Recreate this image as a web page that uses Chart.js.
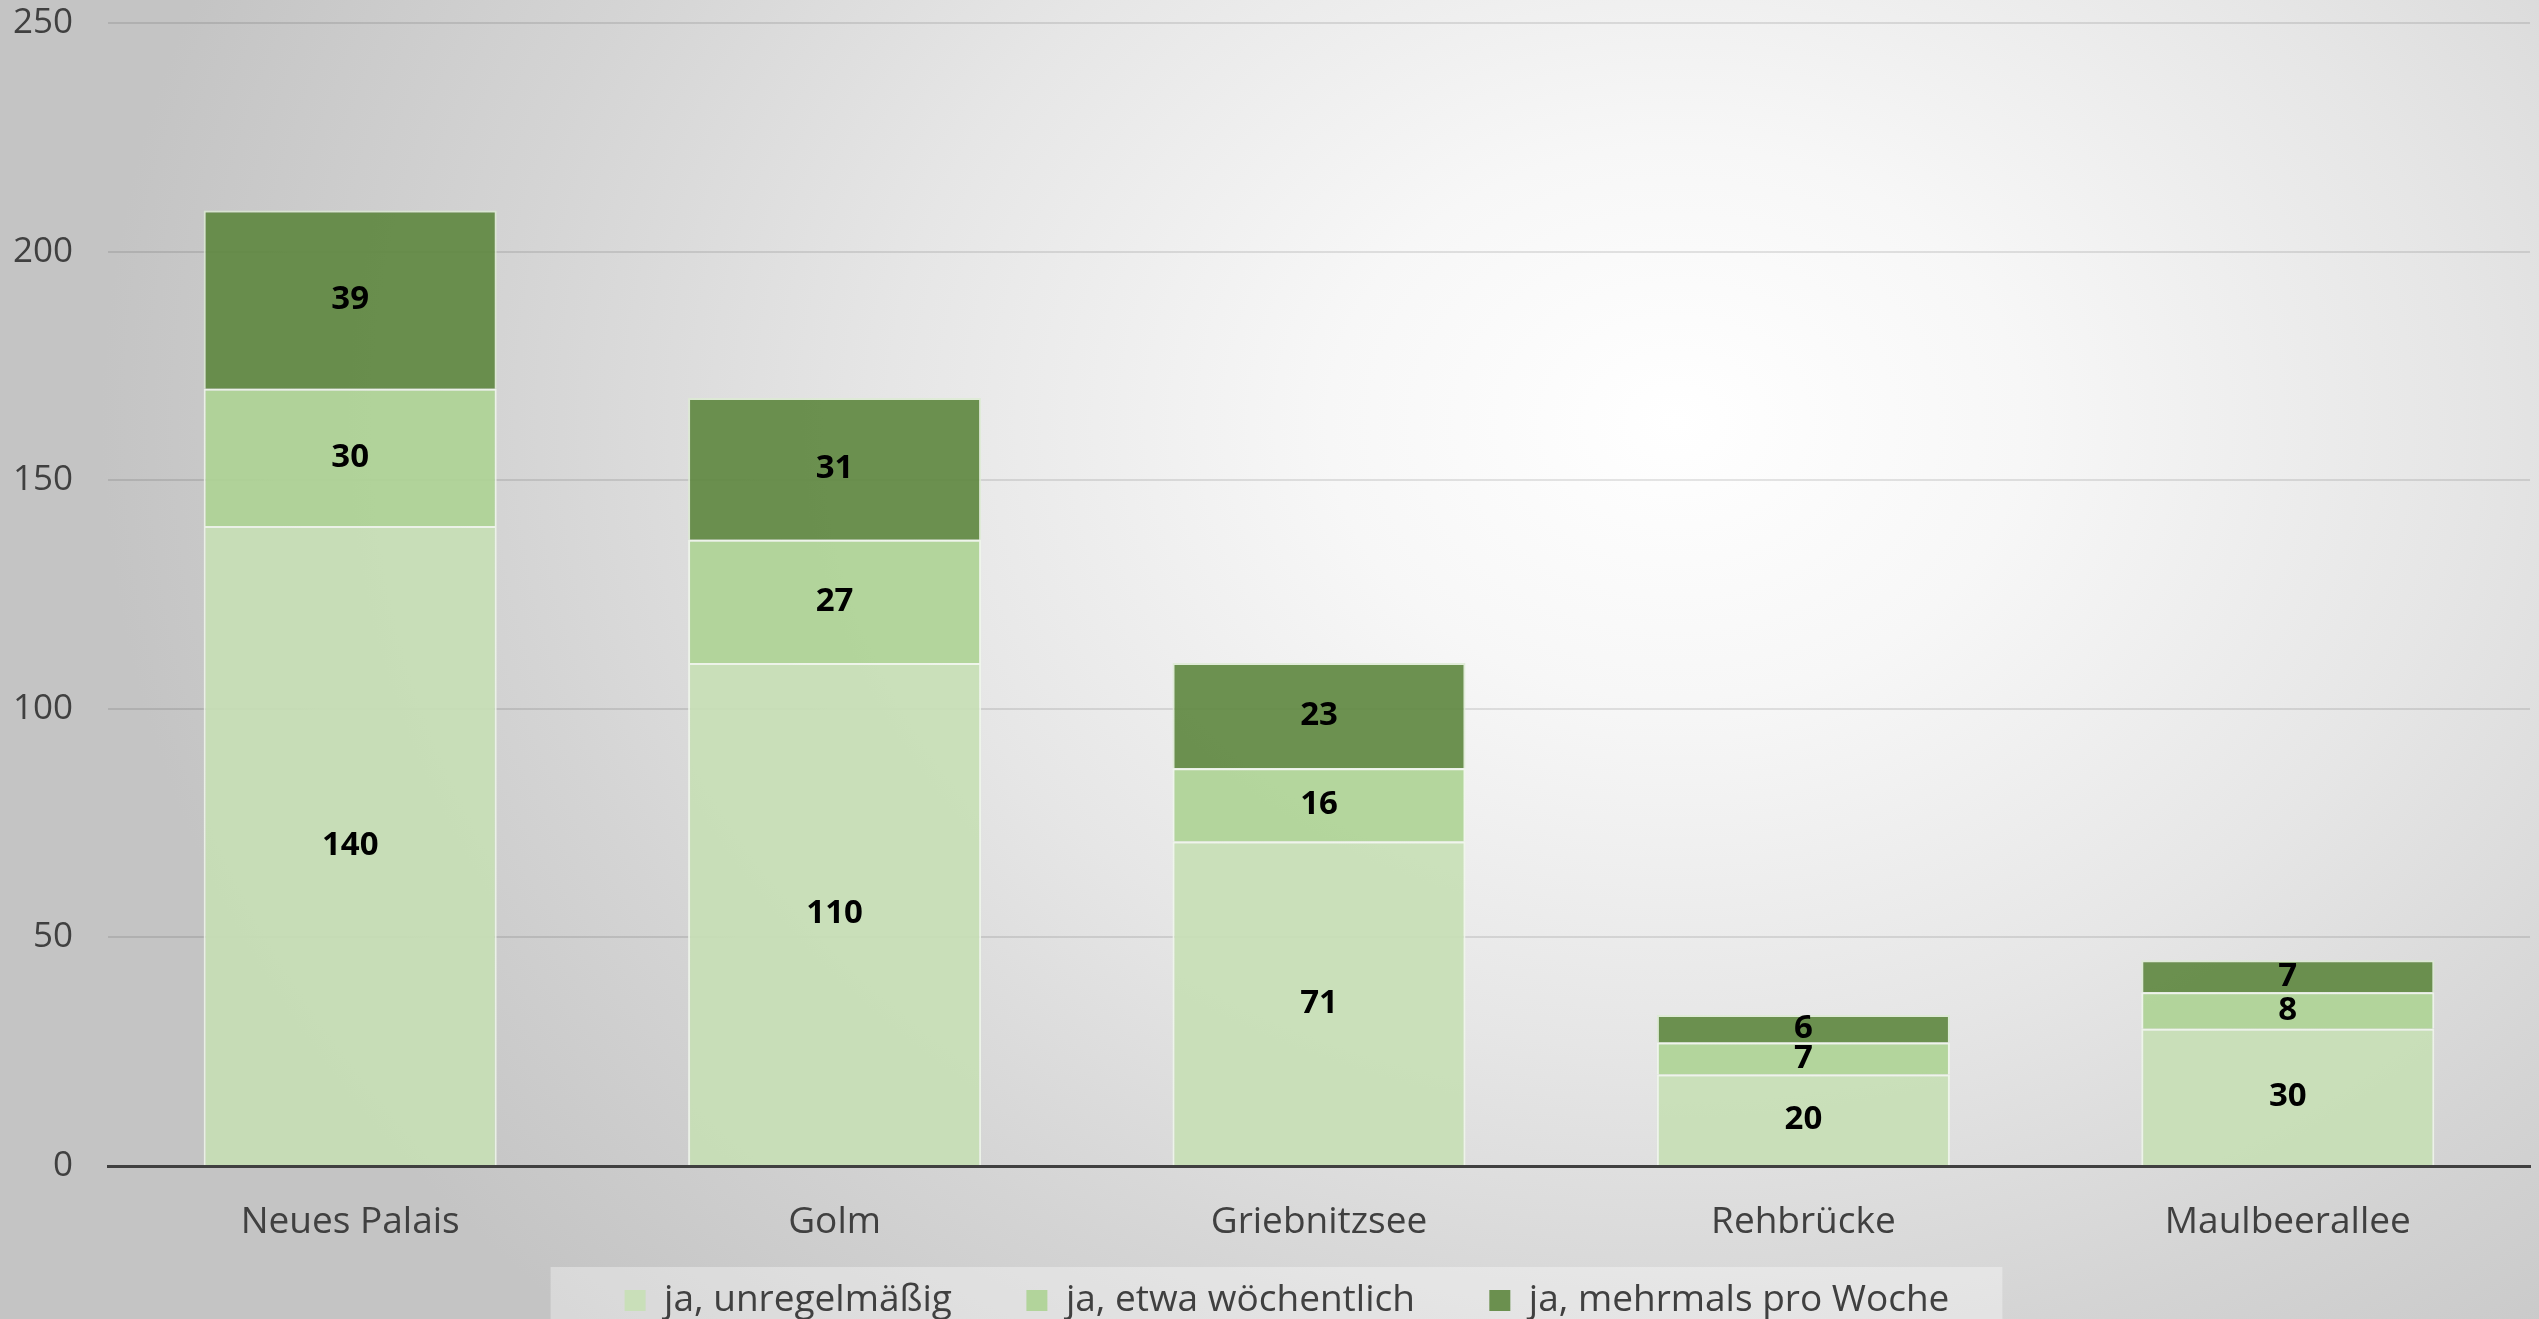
<!DOCTYPE html>
<html>
<head>
<meta charset="utf-8">
<script src="https://cdn.jsdelivr.net/npm/chart.js@4"></script>
<style>
  html, body { margin: 0; padding: 0; overflow: hidden; }
  #wrap {
    width: 2539px; height: 1319px;
    background: radial-gradient(ellipse 62% 95% at 66% 32%, #ffffff 0%, #f7f7f7 22%, #e6e6e6 50%, #d4d4d4 75%, #c4c4c4 100%);
  }
</style>
</head>
<body>
<div id="wrap"><canvas id="chart" width="2539" height="1319"></canvas></div>
<script>
// Categories and series
const locations = ['Neues Palais', 'Golm', 'Griebnitzsee', 'Rehbrücke', 'Maulbeerallee'];
const unregelmaessig = [140, 110, 71, 20, 30];
const woechentlich = [30, 27, 16, 7, 8];
const mehrmals = [39, 31, 23, 6, 7];
const seriesNames = ['ja, unregelmäßig', 'ja, etwa wöchentlich', 'ja, mehrmals pro Woche'];
const yTicks = [0, 50, 100, 150, 200, 250];

const FONT = "'Open Sans', 'DejaVu Sans', sans-serif";

// Draw the value in the middle of each bar segment
const segmentLabels = {
    id: 'segmentLabels',
    afterDatasetsDraw(chart) {
        const ctx = chart.ctx;
        ctx.save();
        ctx.font = 'bold 33px ' + FONT;
        ctx.fillStyle = '#000000';
        ctx.textAlign = 'center';
        ctx.textBaseline = 'middle';
        chart.data.datasets.forEach((ds, i) => {
            const meta = chart.getDatasetMeta(i);
            meta.data.forEach((bar, j) => {
                const y = (bar.y + bar.base) / 2;
                ctx.fillText(String(ds.data[j]), bar.x, y);
            });
        });
        ctx.restore();
    }
};

// Legend sits a little right of centre, on a light box
const legendBox = {
    id: 'legendBox',
    afterLayout(chart) {
        const lg = chart.legend;
        if (!lg) return;
        lg.left += 22;
        lg.right += 22;
    },
    beforeDraw(chart) {
        const lg = chart.legend;
        if (!lg || !lg.lineWidths) return;
        const p = lg.options.labels.padding;
        const w = lg.lineWidths[0];
        const startX = (lg.left + p + lg.right - w) / 2;
        const ctx = chart.ctx;
        ctx.save();
        ctx.fillStyle = 'rgba(255,255,255,0.35)';
        ctx.fillRect(startX - 74, lg.top + 21, w - p + 74 + 53, chart.height);
        ctx.restore();
    }
};

new Chart(document.getElementById('chart'), {
    type: 'bar',
    data: {
        labels: locations,
        datasets: [
            {
                label: seriesNames[0],
                data: unregelmaessig,
                backgroundColor: 'rgba(198, 223, 181, 0.9)',
                borderColor: 'rgba(240, 247, 235, 0.85)',
                borderWidth: 2
            },
            {
                label: seriesNames[1],
                data: woechentlich,
                backgroundColor: 'rgba(173, 211, 148, 0.9)',
                borderColor: 'rgba(240, 247, 235, 0.85)',
                borderWidth: 2
            },
            {
                label: seriesNames[2],
                data: mehrmals,
                backgroundColor: 'rgba(93, 134, 62, 0.9)',
                borderColor: 'rgba(220, 235, 210, 0.8)',
                borderWidth: 2
            }
        ]
    },
    options: {
        responsive: false,
        animation: false,
        devicePixelRatio: 1,
        layout: { padding: { top: 23, right: 9, left: 0, bottom: -10 } },
        datasets: { bar: { barPercentage: 0.605, categoryPercentage: 1.0 } },
        plugins: {
            tooltip: { enabled: false },
            legend: {
                position: 'bottom',
                labels: {
                    color: '#404040',
                    font: { family: FONT, size: 37 },
                    boxWidth: 21,
                    boxHeight: 21,
                    padding: 36,
                    generateLabels(chart) {
                        const items = Chart.defaults.plugins.legend.labels.generateLabels(chart);
                        items.forEach((it, i) => {
                            if (i < items.length - 1) it.text = it.text + '    ';
                            it.lineWidth = 0;
                        });
                        return items;
                    }
                }
            }
        },
        scales: {
            x: {
                stacked: true,
                grid: { display: false, drawTicks: false },
                border: { display: true, color: '#404040', width: 3 },
                ticks: {
                    color: '#404040',
                    font: { family: FONT, size: 37 },
                    padding: 34
                },
                afterFit(scale) { scale.height = 80; }
            },
            y: {
                stacked: true,
                min: yTicks[0],
                max: yTicks[yTicks.length - 1],
                afterBuildTicks(scale) { scale.ticks = yTicks.map(v => ({ value: v })); },
                grid: {
                    color: 'rgba(0,0,0,0.1)',
                    lineWidth: 2,
                    drawTicks: true,
                    tickLength: 35,
                    tickColor: 'rgba(0,0,0,0)'
                },
                border: { display: false },
                ticks: {
                    color: '#404040',
                    font: { family: FONT, size: 35 },
                    padding: 0
                },
                afterFit(scale) { scale.width = 108; }
            }
        }
    },
    plugins: [legendBox, segmentLabels]
});
</script>
</body>
</html>
